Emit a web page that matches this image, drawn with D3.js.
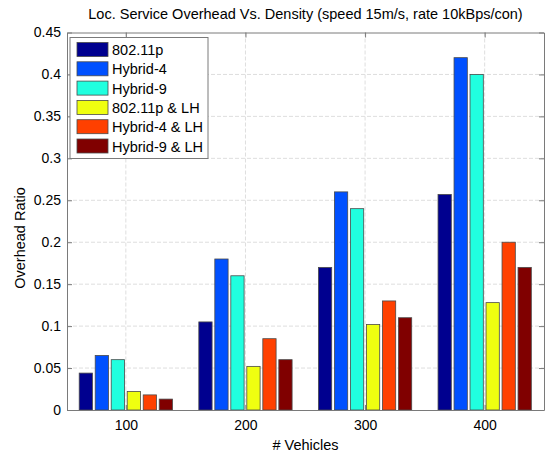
<!DOCTYPE html>
<html>
<head>
<meta charset="utf-8">
<script src="https://cdn.jsdelivr.net/npm/d3@7"></script>
<style>
  body { margin: 0; background: #fff; }
  svg text { font-family: "Liberation Sans", Arial, Helvetica, sans-serif; fill: #000; }
</style>
</head>
<body>
<div id="chart"></div>
<script>
// Loc. Service Overhead vs. Density - grouped bars

const vehicles = [100, 200, 300, 400];
const seriesNames = ['802.11p', 'Hybrid-4', 'Hybrid-9', '802.11p & LH', 'Hybrid-4 & LH', 'Hybrid-9 & LH'];
const seriesColors = ['#00008f', '#0050ff', '#20ffdf', '#efff10', '#ff4000', '#800000'];

// one array per series, values per vehicle count
const p80211 = [0.044, 0.105, 0.170, 0.257];
const hybrid4 = [0.065, 0.180, 0.260, 0.420];
const hybrid9 = [0.060, 0.160, 0.240, 0.400];
const p80211LH = [0.022, 0.052, 0.102, 0.128];
const hybrid4LH = [0.018, 0.085, 0.130, 0.200];
const hybrid9LH = [0.013, 0.060, 0.110, 0.170];
const seriesValues = [p80211, hybrid4, hybrid9, p80211LH, hybrid4LH, hybrid9LH];

const yTicks = [0, 0.05, 0.1, 0.15, 0.2, 0.25, 0.3, 0.35, 0.4, 0.45];

function createBarChart() {
    const W = 545, H = 455;
    const margin = {top: 32.5, right: 1, bottom: 45, left: 67};
    const width = W - margin.left - margin.right;
    const height = H - margin.top - margin.bottom;

    const svg = d3.select('#chart').append('svg')
        .attr('width', W)
        .attr('height', H)
        .append('g')
        .attr('transform', `translate(${margin.left},${margin.top})`);

    const x = d3.scaleLinear().domain([50.8, 449.6]).range([0, width]);
    const y = d3.scaleLinear().domain([0, 0.45]).range([height, 0]);

    // bar offsets inside a group
    const inner = d3.scaleBand()
        .domain(seriesNames)
        .range([-48, 48])
        .paddingInner(0.17)
        .paddingOuter(0.085);

    // dashed grid
    const grid = svg.append('g').attr('class', 'grid');
    grid.selectAll('.hgrid')
        .data(yTicks.slice(1, -1))
        .enter().append('line')
        .attr('x1', 0).attr('x2', width)
        .attr('y1', d => y(d)).attr('y2', d => y(d))
        .attr('stroke', '#dedede')
        .attr('stroke-dasharray', '4,2');
    grid.selectAll('.vgrid')
        .data(vehicles)
        .enter().append('line')
        .attr('x1', d => x(d)).attr('x2', d => x(d))
        .attr('y1', 0).attr('y2', height)
        .attr('stroke', '#dedede')
        .attr('stroke-dasharray', '4,2');

    // bars
    const rows = [];
    seriesValues.forEach((vals, si) => {
        vals.forEach((v, i) => rows.push({s: seriesNames[si], c: seriesColors[si], v: v, x: vehicles[i]}));
    });
    svg.selectAll('.bar')
        .data(rows)
        .enter().append('rect')
        .attr('class', 'bar')
        .attr('x', d => x(d.x) + inner(d.s))
        .attr('width', inner.bandwidth())
        .attr('y', d => y(d.v))
        .attr('height', d => height - y(d.v))
        .attr('fill', d => d.c)
        .attr('stroke', '#4a4a4a')
        .attr('stroke-width', 0.8);

    // axes (MATLAB style: inward ticks, box)
    const axisColor = '#7a7a7a';
    const left = svg.append('g')
        .call(d3.axisLeft(y).tickValues(yTicks).tickSizeInner(-5).tickSizeOuter(0).tickPadding(6)
            .tickFormat(d => d3.format('')(+d.toFixed(2))));
    const right = svg.append('g')
        .attr('transform', `translate(${width},0)`)
        .call(d3.axisRight(y).tickValues(yTicks).tickSizeInner(-5).tickSizeOuter(0).tickFormat(''));
    const bottom = svg.append('g')
        .attr('transform', `translate(0,${height})`)
        .call(d3.axisBottom(x).tickValues(vehicles).tickSizeInner(-5).tickSizeOuter(0).tickPadding(10));
    const top = svg.append('g')
        .call(d3.axisTop(x).tickValues(vehicles).tickSizeInner(-5).tickSizeOuter(0).tickFormat(''));

    [left, right, bottom, top].forEach(a => {
        a.selectAll('path').attr('stroke', axisColor);
        a.selectAll('line').attr('stroke', axisColor);
        a.selectAll('text').style('font-size', '14px').attr('fill', '#000');
    });

    // legend
    const legend = svg.append('g')
        .attr('transform', `translate(${70 - margin.left},${37.5 - margin.top})`);
    legend.append('rect')
        .attr('width', 138)
        .attr('height', 121)
        .attr('fill', '#fff')
        .attr('stroke', axisColor);
    legend.selectAll('.sw')
        .data(seriesNames)
        .enter().append('rect')
        .attr('x', 7)
        .attr('y', (d, i) => 5 + i * 19.3)
        .attr('width', 31)
        .attr('height', 14)
        .attr('fill', (d, i) => seriesColors[i])
        .attr('stroke', '#4a4a4a')
        .attr('stroke-width', 0.8);
    legend.selectAll('.lt')
        .data(seriesNames)
        .enter().append('text')
        .attr('x', 42)
        .attr('y', (d, i) => 5 + i * 19.3 + 12.5)
        .style('font-size', '14.5px')
        .text(d => d);

    // title and labels
    svg.append('text')
        .attr('x', width / 2)
        .attr('y', 19 - margin.top)
        .attr('text-anchor', 'middle')
        .style('font-size', '14.5px')
        .text('Loc. Service Overhead Vs. Density (speed 15m/s, rate 10kBps/con)');

    svg.append('text')
        .attr('x', width / 2)
        .attr('y', 450 - margin.top)
        .attr('text-anchor', 'middle')
        .style('font-size', '14.5px')
        .text('# Vehicles');

    svg.append('text')
        .attr('transform', 'rotate(-90)')
        .attr('x', -(238 - margin.top))
        .attr('y', 25 - margin.left)
        .attr('text-anchor', 'middle')
        .style('font-size', '14.5px')
        .text('Overhead Ratio');
}

createBarChart();
</script>
</body>
</html>
